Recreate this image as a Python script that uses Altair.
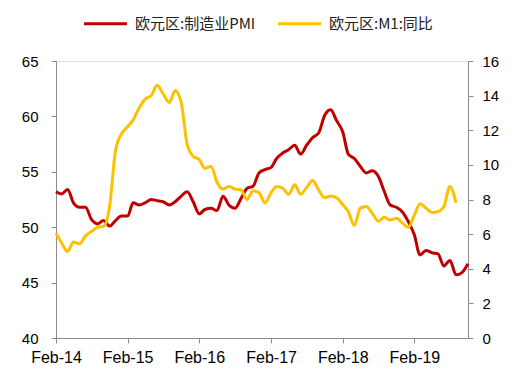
import altair as alt
import pandas as pd

# monthly, Feb-2014 onward
pmi = [53.2, 53.0, 53.4, 52.2, 51.8, 51.8, 50.7, 50.3, 50.6, 50.1, 50.6,
       51.0, 51.0, 52.2, 52.0, 52.2, 52.5, 52.4, 52.3, 52.0, 52.3, 52.8, 53.2,
       52.3, 51.2, 51.6, 51.7, 51.5, 52.8, 52.0, 51.7, 52.6, 53.5, 53.7, 54.9,
       55.2, 55.4, 56.2, 56.7, 57.0, 57.4, 56.6, 57.4, 58.1, 58.5, 60.1, 60.6,
       59.6, 58.6, 56.6, 56.2, 55.5, 54.9, 55.1, 54.6, 53.2, 52.0, 51.8, 51.4,
       50.5, 49.3, 47.5, 47.9, 47.7, 47.6, 46.5, 47.0, 45.7, 45.9, 46.7]
m1 = [6.05, 5.5, 5.0, 5.55, 5.45, 5.9, 6.15, 6.4, 6.45, 7.6, 10.8,
      11.8, 12.2, 12.6, 13.3, 13.8, 14.0, 14.6, 14.1, 13.6, 14.3, 13.6, 11.2,
      10.5, 10.3, 9.8, 9.9, 9.0, 8.6, 8.75, 8.6, 8.55, 8.0, 8.5, 8.4,
      7.8, 8.4, 8.75, 8.65, 8.3, 8.85, 8.3, 8.7, 9.1, 8.55, 8.1, 8.2,
      8.1, 7.7, 7.3, 6.5, 7.5, 7.6, 7.2, 6.75, 6.97, 6.82, 6.92, 6.65,
      6.4, 7.1, 7.75, 7.5, 7.25, 7.3, 7.6, 8.75, 7.8]
tick_years = [2014, 2015, 2016, 2017, 2018, 2019]
s_pmi = "欧元区:制造业PMI"
s_m1 = "欧元区:M1:同比"

dates_pmi = pd.date_range("2014-02-01", periods=len(pmi), freq="MS").strftime("%Y-%m-%d")
dates_m1 = pd.date_range("2014-02-01", periods=len(m1), freq="MS").strftime("%Y-%m-%d")
df_pmi = pd.DataFrame({"date": dates_pmi, "value": pmi, "series": s_pmi})
df_m1 = pd.DataFrame({"date": dates_m1, "value": m1, "series": s_m1})

font = "Liberation Sans"
grey = "#8c8c8c"

xenc = alt.X("date:T", title=None,
             scale=alt.Scale(domain=[alt.DateTime(year=2014, month=2, date=1),
                                     alt.DateTime(year=2019, month=11, date=1)]),
             axis=alt.Axis(format="%b-%y",
                           values=[alt.DateTime(year=y, month=2, date=1) for y in tick_years],
                           grid=False, labelFontSize=16, labelColor="black", labelFont=font,
                           labelFlush=False, labelOverlap=False,
                           domainColor=grey, tickColor=grey, tickSize=5, labelPadding=6))

color = alt.Color("series:N", title=None,
                  scale=alt.Scale(domain=[s_pmi, s_m1], range=["#C00000", "#FFC000"]),
                  legend=alt.Legend(orient="none", direction="horizontal", legendX=26, legendY=-61,
                                    symbolType="stroke", symbolStrokeWidth=3, symbolSize=1850,
                                    labelFontSize=15, labelFont="Noto Sans CJK SC",
                                    labelColor="#222222", columnPadding=15, labelOffset=6,
                                    labelLimit=300))

left = alt.Chart(df_pmi).mark_line(strokeWidth=3, interpolate="monotone").encode(
    x=xenc,
    y=alt.Y("value:Q", title=None,
            scale=alt.Scale(domain=[40, 65], nice=False, zero=False),
            axis=alt.Axis(values=[40, 45, 50, 55, 60, 65], grid=False, labelFontSize=15,
                          labelColor="black", labelFont=font, domainColor=grey,
                          tickColor=grey, tickSize=5, labelPadding=13)),
    color=color,
)

right = alt.Chart(df_m1).mark_line(strokeWidth=3, interpolate="monotone").encode(
    x=xenc,
    y=alt.Y("value:Q", title=None,
            scale=alt.Scale(domain=[0, 16], nice=False),
            axis=alt.Axis(orient="right", values=list(range(0, 17, 2)), grid=False,
                          labelFontSize=15, labelColor="black", labelFont=font,
                          domainColor=grey, tickColor=grey, tickSize=5, labelPadding=9)),
    color=color,
)

chart = alt.layer(left, right).resolve_scale(y="independent").properties(
    width=412, height=277,
    autosize=alt.AutoSizeParams(type="none"),
    padding={"left": 56, "top": 61, "right": 55, "bottom": 38},
).configure_view(stroke=None).configure(background="white")

chart.save("out.html", embed_options={"renderer": "svg", "actions": False})
